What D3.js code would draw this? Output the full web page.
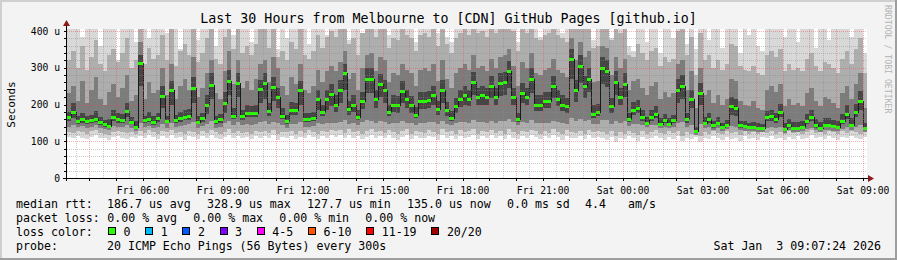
<!DOCTYPE html>
<html><head><meta charset="utf-8">
<script src="https://cdn.jsdelivr.net/npm/d3@7"></script>
<style>
html,body{margin:0;padding:0;background:#f3f3f3;}
svg{display:block;}
text{font-family:"DejaVu Sans Mono",monospace;fill:#000;white-space:pre;}
</style></head><body>
<svg id="chart" width="897" height="260"></svg>
<script>
// ---------------- data ----------------
const title = "Last 30 Hours from Melbourne to [CDN] GitHub Pages [github.io]";
const yAxisTitle = "Seconds";
const watermark = "RRDTOOL / TOBI OETIKER";
const startTime = "2026-01-02T03:10:00Z";
const stepMinutes = 10;

// median rtt (microseconds) per 10-minute step
const median = [
165,180,155,160,155,157,161,152,146,142,165,160,157,181,153,140,312,157,160,152,
162,224,156,239,157,162,167,168,245,153,162,200,253,154,160,205,265,170,258,168,
177,177,178,242,258,183,248,220,170,155,185,185,239,160,160,162,215,180,215,228,
200,240,285,188,200,166,210,270,270,215,255,240,180,200,198,238,215,198,172,210,
210,212,225,188,240,185,163,195,215,225,216,260,220,225,220,250,220,258,260,290,
220,160,230,220,270,200,200,210,210,250,215,200,195,325,240,305,250,270,175,180,
300,290,195,260,220,255,160,185,190,165,150,165,175,148,158,148,157,240,250,160,
215,128,230,150,160,143,150,138,145,195,190,143,142,138,140,137,136,165,168,160,
180,133,143,136,137,138,155,165,143,137,145,145,142,138,155,175,145,180,210,135];

// smoke: ping distribution per step (values above 400 are off the top)
const pMin = [
112,108,115,110,106,112,118,110,108,104,112,115,110,106,112,109,114,108,116,111,
105,113,110,117,108,112,104,115,111,107,113,109,116,110,105,112,118,109,114,108,
111,106,115,110,113,108,117,104,112,110,115,107,112,109,116,111,105,113,110,117,
112,116,108,118,110,114,105,112,117,109,113,108,116,110,104,112,118,106,114,110,
108,115,111,104,117,110,113,107,115,109,112,118,106,114,110,116,108,113,105,117,
110,106,114,109,116,112,105,113,108,117,111,104,115,110,108,113,106,116,109,112,
108,104,112,97,110,106,114,108,102,112,106,110,115,108,104,112,107,113,100,110,
106,112,98,110,105,113,108,104,112,107,110,102,113,106,110,104,112,108,114,106,
110,104,112,107,114,106,110,116,108,112,106,113,109,104,112,108,114,110,106,112];
const p10 = [
126,122,128,124,120,127,130,123,121,118,126,128,124,122,126,121,128,123,130,125,
120,128,124,131,122,126,119,129,125,121,127,123,130,124,120,126,132,123,128,122,
125,120,129,124,127,122,131,119,126,124,129,121,127,123,130,125,119,127,124,131,
127,131,122,133,125,129,120,127,132,124,128,122,131,125,119,127,133,121,129,125,
122,130,126,119,132,125,128,121,130,124,127,133,120,129,125,131,123,128,120,132,
125,121,129,124,131,127,120,128,123,132,126,119,130,125,123,128,121,131,124,127,
124,119,127,113,125,121,129,123,117,127,121,125,130,123,119,127,122,128,115,125,
121,126,113,125,120,128,123,119,127,122,125,117,128,121,125,119,127,123,129,121,
125,119,127,122,129,121,125,131,123,127,121,128,124,119,127,123,129,125,121,127];
const p25 = [
140,144,138,141,136,140,143,137,133,130,142,140,138,145,137,129,150,139,141,136,
140,148,137,150,138,141,145,146,152,136,141,147,155,137,140,149,156,144,153,145,
146,145,147,152,154,148,153,150,144,137,148,147,152,140,139,142,149,146,150,151,
150,153,158,148,150,144,152,157,156,151,155,153,147,150,149,154,151,149,145,151,
151,152,153,148,154,147,143,149,152,153,151,157,152,153,151,155,151,156,156,160,
152,143,153,151,157,150,150,151,151,155,152,149,148,162,154,160,155,157,146,147,
158,157,148,155,151,154,142,146,147,143,138,143,145,136,140,136,139,150,152,140,
145,118,147,135,139,131,135,128,132,141,140,130,129,127,129,126,125,137,138,136,
139,122,130,125,126,127,134,137,130,126,131,131,129,127,134,138,131,139,143,124];
const p40 = [
155,162,148,151,147,149,152,145,140,136,155,151,149,165,146,135,250,149,152,145,
153,190,149,200,149,153,157,158,205,146,153,175,215,147,151,178,225,160,220,158,
165,165,166,205,215,170,210,190,160,148,172,172,200,152,152,154,185,168,185,195,
180,205,240,172,180,157,188,230,232,190,220,205,168,180,178,205,190,178,162,188,
188,190,200,172,205,170,155,178,192,200,195,225,198,200,198,218,198,222,225,245,
198,152,205,198,232,182,182,190,190,218,195,182,178,270,208,258,218,235,164,168,
255,248,178,225,198,220,152,172,176,156,144,156,164,142,150,142,149,205,215,151,
190,124,200,143,151,137,143,133,139,172,170,137,136,133,135,132,131,154,156,150,
165,128,137,131,132,133,146,154,137,132,139,139,136,133,146,160,139,165,185,130];
const p60 = [
180,205,168,178,168,172,182,165,158,160,185,176,174,205,166,155,335,170,180,168,
178,250,170,265,172,180,185,188,275,168,178,225,285,170,175,235,295,190,285,185,
198,195,200,268,285,205,275,245,190,172,208,205,265,178,176,180,240,200,240,255,
225,268,310,210,225,185,235,298,298,240,282,268,200,225,222,265,240,222,192,235,
235,238,250,210,268,208,182,218,240,250,240,288,245,250,245,278,245,285,288,318,
245,178,258,245,298,225,225,235,235,278,240,225,218,352,268,335,278,298,198,202,
330,320,218,290,245,285,178,208,212,185,165,185,195,162,175,162,172,270,280,178,
240,140,258,165,178,155,165,150,158,220,215,155,155,150,152,150,148,182,186,178,
202,150,160,152,153,155,175,185,160,152,162,162,158,154,175,198,162,202,238,150];
const p75 = [
230,250,210,265,205,240,275,215,200,235,255,220,245,280,210,225,370,215,260,230,
240,300,225,310,215,250,270,240,330,220,245,285,320,230,215,290,345,255,320,245,
265,240,270,310,320,260,330,300,250,225,275,255,310,240,230,250,295,260,290,305,
290,315,345,270,285,240,300,335,340,290,330,320,260,285,280,310,295,285,250,295,
300,290,310,265,320,270,245,285,300,310,295,335,300,305,290,325,300,330,335,350,
305,250,315,300,340,285,280,295,300,325,295,285,275,380,320,370,330,345,260,265,
360,355,280,330,300,325,240,265,270,245,225,250,260,215,235,220,230,310,320,240,
290,190,300,225,240,205,225,200,215,270,265,210,200,195,210,190,185,240,250,235,
255,195,215,200,205,195,230,245,210,195,220,215,205,190,230,250,215,255,285,190];
const p90 = [
320,345,300,360,295,330,375,310,290,335,350,315,340,380,300,320,430,310,355,325,
335,390,320,410,305,345,365,335,420,315,340,380,415,325,310,385,440,350,415,340,
360,335,365,405,415,355,420,330,345,320,370,350,405,335,325,345,390,355,385,400,
385,410,440,365,380,335,395,425,435,385,425,415,355,380,375,405,390,380,345,390,
395,385,405,360,415,365,340,380,395,405,390,430,395,400,385,420,395,425,430,445,
400,345,410,395,435,380,375,390,395,420,390,380,370,460,415,450,425,440,355,360,
430,425,375,420,395,415,335,330,365,340,320,345,355,305,330,315,325,400,410,335,
385,280,395,320,335,300,320,295,310,365,360,305,295,290,305,285,280,335,345,330,
350,290,310,295,300,290,325,340,305,290,315,310,300,285,325,345,310,350,380,285];
const pMax = [
450,450,450,385,450,450,450,360,450,450,450,320,450,450,450,370,450,450,380,450,
450,450,395,450,450,350,450,450,450,375,450,450,450,360,450,450,450,390,450,450,
450,370,450,450,450,450,450,350,450,380,450,450,450,450,365,450,450,450,390,450,
450,450,450,375,450,450,380,450,450,450,450,450,390,450,450,450,450,450,370,450,
450,450,450,395,450,385,370,450,450,450,450,450,450,450,450,450,450,450,450,450,
450,370,450,450,450,450,385,450,450,450,450,395,450,450,450,450,450,450,375,450,
450,450,380,450,450,450,360,345,450,450,370,450,450,340,450,450,380,450,450,365,
450,350,450,450,375,450,450,355,450,450,450,340,450,390,450,360,345,450,450,450,
450,385,450,450,370,450,450,450,355,450,450,375,450,450,450,450,385,450,450,340];

const yTicks = [0,100,200,300,400];
const yTickLabels = ["0","100 u","200 u","300 u","400 u"];
const xTickLabels = ["Fri 06:00","Fri 09:00","Fri 12:00","Fri 15:00","Fri 18:00","Fri 21:00","Sat 00:00","Sat 03:00","Sat 06:00","Sat 09:00"];

const rttLabel = "median rtt:";
const rttStats = ["186.7 us avg","328.9 us max","127.7 us min","135.0 us now"];
const rttExtra = ["0.0 ms sd","4.4","am/s"];
const lossLabel = "packet loss:";
const lossStats = ["0.00 % avg","0.00 % max","0.00 % min","0.00 % now"];
const lossColorLabel = "loss color:";
const lossLabels = ["0","1","2","3","4-5","6-10","11-19","20/20"];
const lossColors = ["#26ff00","#00b8ff","#0059ff","#7e00ff","#ff00ff","#ff5500","#ff0000","#a00000"];
const probeLabel = "probe:";
const probeText = "20 ICMP Echo Pings (56 Bytes) every 300s";
const stampText = "Sat Jan  3 09:07:24 2026";

// ---------------- drawing ----------------
const W = 897, H = 260;
const L = 67, R = 867, T = 31, B = 178, canvasTop = 29;
const svg = d3.select("#chart");

svg.append("rect").attr("x",0).attr("y",0).attr("width",W).attr("height",H).attr("fill","#f3f3f3");
svg.append("path").attr("d",`M0,0H${W}V2H2V${H}H0Z`).attr("fill","#cfcfcf");
svg.append("path").attr("d",`M${W},${H}H0V${H-2}H${W-2}V0H${W}Z`).attr("fill","#9e9e9e");

const N = median.length;
const t0 = new Date(startTime).getTime();
const stepMs = stepMinutes*60000;
const x = d3.scaleUtc().domain([new Date(t0), new Date(t0+N*stepMs)]).range([L,R]);
const y = d3.scaleLinear().domain([0,400]).range([B,T]);

svg.append("rect").attr("x",L).attr("y",canvasTop).attr("width",R-L).attr("height",B-canvasTop).attr("fill","#fff");

svg.append("clipPath").attr("id","clip").append("rect")
  .attr("x",L).attr("y",canvasTop).attr("width",R-L).attr("height",B-canvasTop);
const plot = svg.append("g").attr("clip-path","url(#clip)");

const rows = d3.range(N+1).map(i => {
  const k = Math.min(i, N-1);
  return {t:new Date(t0+i*stepMs), lo0:pMin[k], lo1:p10[k], lo2:p25[k], lo3:p40[k],
          hi3:p60[k], hi2:p75[k], hi1:p90[k], hi0:pMax[k], med:median[k]};
});
const bands = [["lo0","hi0","#d8d8d8"],["lo1","hi1","#aeaeae"],["lo2","hi2","#7c7c7c"],["lo3","hi3","#464646"]];
bands.forEach(([lo,hi,c]) => {
  plot.append("path").datum(rows)
    .attr("d", d3.area().curve(d3.curveStepAfter).x(d=>x(d.t)).y0(d=>y(d[lo])).y1(d=>y(d[hi])))
    .attr("fill", c).attr("shape-rendering","crispEdges");
});

plot.append("path").datum(rows)
  .attr("d", d3.line().curve(d3.curveStepAfter).x(d=>Math.round(x(d.t))+0.5).y(d=>Math.round(y(d.med))+0.5))
  .attr("fill","none").attr("stroke","#1a1a1a").attr("stroke-width",1).attr("shape-rendering","crispEdges");
plot.selectAll("rect.med").data(median).enter().append("rect")
  .attr("x",(d,i)=>x(new Date(t0+i*stepMs)))
  .attr("width",(d,i)=>x(new Date(t0+(i+1)*stepMs))-x(new Date(t0+i*stepMs)))
  .attr("y",d=>Math.round(y(d))-1).attr("height",2.5)
  .attr("fill",lossColors[0]).attr("shape-rendering","crispEdges");

// grid (on top)
const grid = svg.append("g").attr("shape-rendering","crispEdges").attr("stroke-dasharray","1,1");
const minorY = d3.range(20,400,20).filter(v=>v%100!==0);
grid.selectAll("line.my").data(minorY).enter().append("line")
  .attr("x1",L).attr("x2",R).attr("y1",d=>Math.round(y(d))+0.5).attr("y2",d=>Math.round(y(d))+0.5)
  .attr("stroke","rgba(140,140,140,0.45)");
const halfHours = d3.utcMinute.every(30).range(x.domain()[0], x.domain()[1]).filter(d=>d.getUTCMinutes()===30);
grid.selectAll("line.mx").data(halfHours).enter().append("line")
  .attr("x1",d=>Math.round(x(d))+0.5).attr("x2",d=>Math.round(x(d))+0.5).attr("y1",canvasTop).attr("y2",B)
  .attr("stroke","rgba(140,140,140,0.45)");
grid.selectAll("line.My").data(yTicks.filter(v=>v>0)).enter().append("line")
  .attr("x1",L).attr("x2",R).attr("y1",d=>Math.round(y(d))+0.5).attr("y2",d=>Math.round(y(d))+0.5)
  .attr("stroke","rgba(255,60,60,0.4)");
const hours = d3.utcHour.every(1).range(x.domain()[0], x.domain()[1]);
grid.selectAll("line.Mx").data(hours).enter().append("line")
  .attr("x1",d=>Math.round(x(d))+0.5).attr("x2",d=>Math.round(x(d))+0.5).attr("y1",canvasTop).attr("y2",B)
  .attr("stroke","rgba(255,60,60,0.4)");

// axes
const labelTimes = d3.utcHour.every(3).range(x.domain()[0], x.domain()[1]);
const xAxis = d3.axisBottom(x).tickValues(labelTimes).tickFormat((d,i)=>xTickLabels[i]).tickSize(0).tickPadding(9);
const gx = svg.append("g").attr("transform",`translate(0,${B})`).call(xAxis);
gx.select(".domain").remove();
gx.selectAll("text").attr("font-family","DejaVu Sans Mono").attr("font-size","9.7px").attr("fill","#000");

const yAxis = d3.axisLeft(y).tickValues(yTicks).tickFormat((d,i)=>yTickLabels[i]).tickSize(0).tickPadding(7);
const gy = svg.append("g").attr("transform",`translate(${L},0)`).call(yAxis);
gy.select(".domain").remove();
gy.selectAll("text").attr("font-family","DejaVu Sans Mono").attr("font-size","9.7px").attr("fill","#000");

const ax = svg.append("g").attr("shape-rendering","crispEdges");
ax.append("line").attr("x1",L-0.5).attr("x2",L-0.5).attr("y1",24).attr("y2",B+3).attr("stroke","#000");
ax.append("line").attr("x1",L-4).attr("x2",870).attr("y1",B+0.5).attr("y2",B+0.5).attr("stroke","#000");
ax.selectAll("line.yt").data(minorY.concat(yTicks)).enter().append("line")
  .attr("x1",L-3).attr("x2",L).attr("y1",d=>Math.round(y(d))+0.5).attr("y2",d=>Math.round(y(d))+0.5).attr("stroke","#000");
ax.selectAll("line.xt").data(hours).enter().append("line")
  .attr("x1",d=>Math.round(x(d))+0.5).attr("x2",d=>Math.round(x(d))+0.5).attr("y1",B).attr("y2",B+3).attr("stroke","#000");
svg.append("path").attr("d",`M${L-4},26L${L-0.5},20L${L+3},26Z`).attr("fill","#8b1a1a");
svg.append("path").attr("d",`M868,${B-3}L874,${B+0.5}L868,${B+4}Z`).attr("fill","#8b1a1a");

// titles
svg.append("text").attr("x",448.5).attr("y",23).attr("text-anchor","middle").attr("font-size","13.3px").text(title);
svg.append("text").attr("transform",`translate(15,${(T+B)/2}) rotate(-90)`).attr("text-anchor","middle")
  .attr("font-size","11px").text(yAxisTitle);
svg.append("text").attr("transform",`translate(885,5) rotate(90)`).attr("font-size","8.2px")
  .style("fill","#b4b4b4").text(watermark);

// legend
const lg = svg.append("g").attr("font-size","11.6px");
const cw = 7;
const rowY = [208,222,236,250];
lg.append("text").attr("x",16).attr("y",rowY[0]).text(rttLabel);
rttStats.forEach((s,i)=>lg.append("text").attr("x",107+i*100).attr("y",rowY[0]).text(s));
lg.append("text").attr("x",507).attr("y",rowY[0]).text(rttExtra[0]);
lg.append("text").attr("x",585).attr("y",rowY[0]).text(rttExtra[1]);
lg.append("text").attr("x",628).attr("y",rowY[0]).text(rttExtra[2]);
lg.append("text").attr("x",16).attr("y",rowY[1]).text(lossLabel);
lossStats.forEach((s,i)=>lg.append("text").attr("x",107.3+i*86).attr("y",rowY[1]).text(s));
lg.append("text").attr("x",16).attr("y",rowY[2]).text(lossColorLabel);
let bx = 108;
lossLabels.forEach((s,i)=>{
  lg.append("rect").attr("x",bx+0.5).attr("y",227.5).attr("width",7).attr("height",7)
    .attr("fill",lossColors[i]).attr("stroke","#000").attr("shape-rendering","crispEdges");
  lg.append("text").attr("x",bx+15.5).attr("y",rowY[2]).text(s);
  bx += 15.5 + s.length*cw + 14.7;
});
lg.append("text").attr("x",16).attr("y",rowY[3]).text(probeLabel);
lg.append("text").attr("x",107).attr("y",rowY[3]).text(probeText);
lg.append("text").attr("x",881).attr("y",rowY[3]).attr("text-anchor","end").text(stampText);
</script>
</body></html>
